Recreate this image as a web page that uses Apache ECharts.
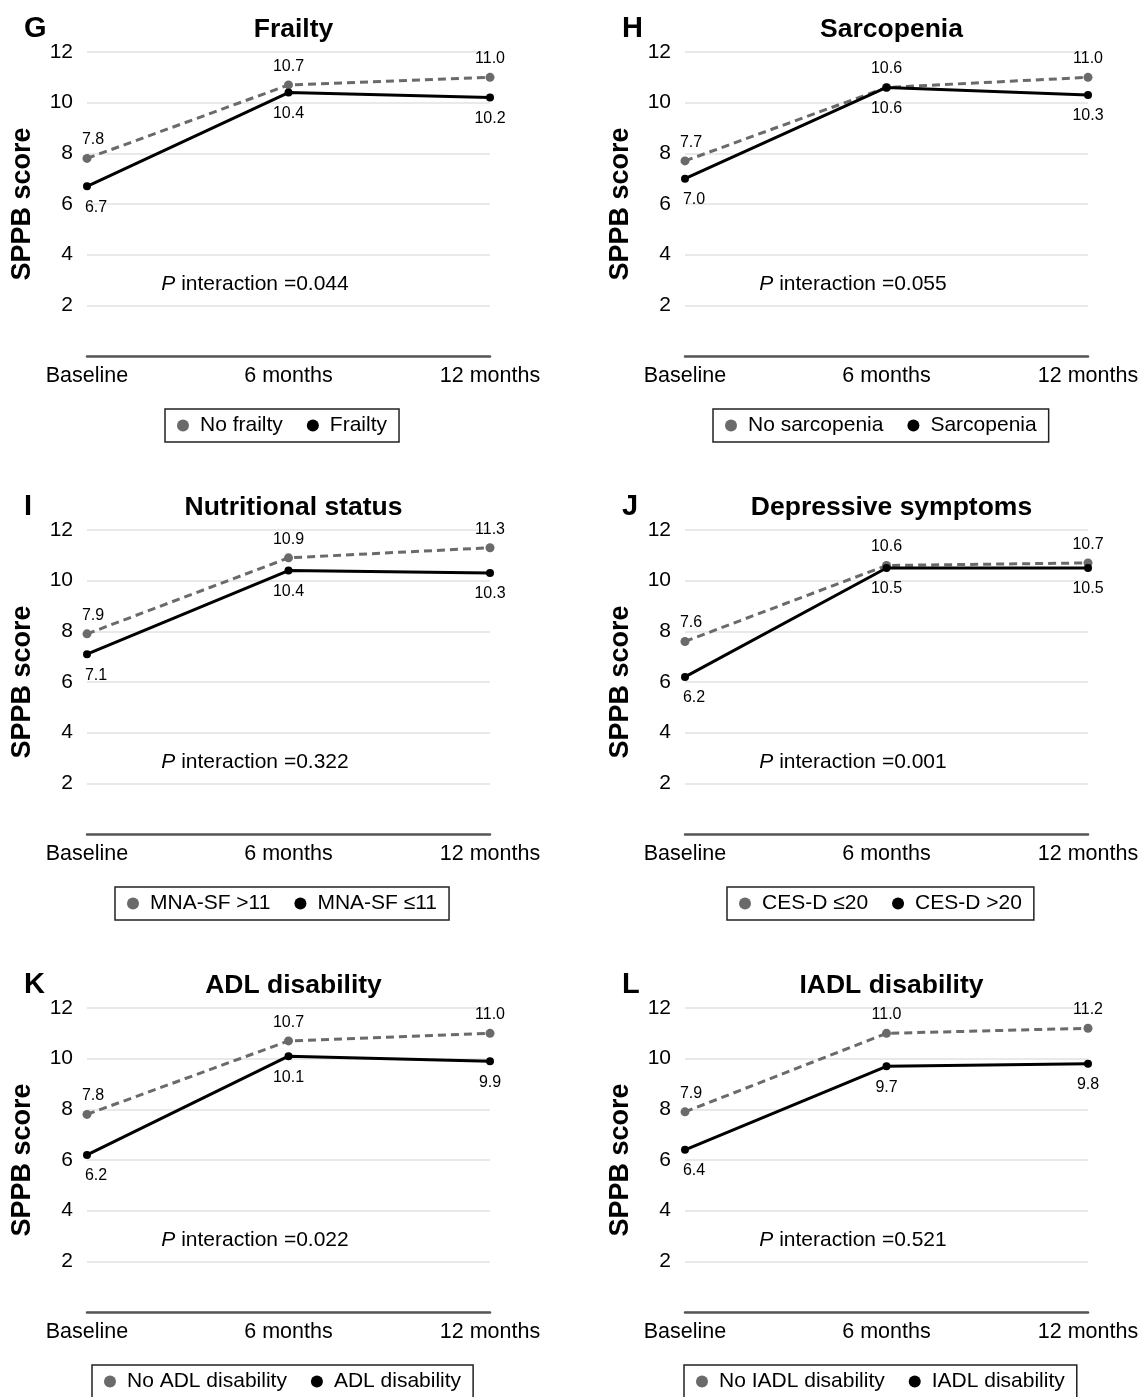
<!DOCTYPE html>
<html>
<head>
<meta charset="utf-8">
<script src="https://cdn.jsdelivr.net/npm/echarts@6/dist/echarts.min.js"></script>
<style>
html,body{margin:0;padding:0;background:#fff;}
#chart{width:1144px;height:1397px;}
</style>
</head>
<body>
<div id="chart"></div>
<script>
// ---------- data ----------
const categories = ['Baseline', '6 months', '12 months'];
const yTicks = { min: 0, max: 12, interval: 2 };
const panelLetters = ['G', 'H', 'I', 'J', 'K', 'L'];
const panelTitles = ['Frailty', 'Sarcopenia', 'Nutritional status', 'Depressive symptoms', 'ADL disability', 'IADL disability'];
const groupNamesA = ['No frailty', 'No sarcopenia', 'MNA-SF >11', 'CES-D ≤20', 'No ADL disability', 'No IADL disability'];
const groupNamesB = ['Frailty', 'Sarcopenia', 'MNA-SF ≤11', 'CES-D >20', 'ADL disability', 'IADL disability'];
const frailtyNo = [7.8, 10.7, 11.0];
const frailtyYes = [6.7, 10.4, 10.2];
const sarcopeniaNo = [7.7, 10.6, 11.0];
const sarcopeniaYes = [7.0, 10.6, 10.3];
const mnaHigh = [7.9, 10.9, 11.3];
const mnaLow = [7.1, 10.4, 10.3];
const cesdLow = [7.6, 10.6, 10.7];
const cesdHigh = [6.2, 10.5, 10.5];
const adlNo = [7.8, 10.7, 11.0];
const adlYes = [6.2, 10.1, 9.9];
const iadlNo = [7.9, 11.0, 11.2];
const iadlYes = [6.4, 9.7, 9.8];
const valuesA = [frailtyNo, sarcopeniaNo, mnaHigh, cesdLow, adlNo, iadlNo];
const valuesB = [frailtyYes, sarcopeniaYes, mnaLow, cesdHigh, adlYes, iadlYes];
const pValues = ['0.044', '0.055', '0.322', '0.001', '0.022', '0.521'];

// ---------- layout / style ----------
const FONT = '"Liberation Sans", Arial, sans-serif';
const colLeft = [87, 685];
const gridWidth = 403;
const rowOffset = [0, 478, 956];
const gridTopBase = 52;
const gridHeight = 304;
const legendFont = 21, legendPadX = 12, legendItemW = 24, legendItemH = 12, legendGap = 24;

const canvas = document.createElement('canvas');
const ctx = canvas.getContext('2d');
ctx.font = legendFont + 'px ' + FONT;
const tw = s => ctx.measureText(s).width;

const grids = [], xAxes = [], yAxes = [], series = [], titles = [], legends = [];

for (let i = 0; i < 6; i++) {
  const col = i % 2, row = Math.floor(i / 2);
  const left = colLeft[col];
  const off = rowOffset[row];
  const top = gridTopBase + off;
  const cx = left + gridWidth / 2;

  grids.push({ left: left, top: top, width: gridWidth, height: gridHeight, containLabel: false });

  xAxes.push({
    type: 'category', gridIndex: i, data: categories, boundaryGap: false,
    axisLine: { show: true, lineStyle: { color: '#555', width: 2.5 } },
    axisTick: { show: false },
    axisLabel: { color: '#000', fontSize: 21.5, fontFamily: FONT, margin: 9 },
    splitLine: { show: false }
  });

  yAxes.push({
    type: 'value', gridIndex: i, min: yTicks.min, max: yTicks.max, interval: yTicks.interval,
    name: 'SPPB score', nameLocation: 'middle', nameGap: 51,
    nameTextStyle: { color: '#000', fontSize: 27, fontWeight: 'bold', fontFamily: FONT },
    axisLine: { show: false }, axisTick: { show: false },
    axisLabel: { color: '#000', fontSize: 21, fontFamily: FONT, margin: 14,
      formatter: v => (v === 0 ? '' : String(v)) },
    splitLine: { show: true, lineStyle: { color: '#e2e2e2', width: 1.5 } }
  });

  const mk = (arr, isA) => arr.map((v, j) => j === 0
    ? { value: v, label: { offset: isA ? [6, 0] : [9, 0] } } : v);

  series.push({
    name: groupNamesA[i], type: 'line', xAxisIndex: i, yAxisIndex: i,
    data: mk(valuesA[i], true),
    symbol: 'circle', symbolSize: 9,
    itemStyle: { color: '#6a6a6a' },
    lineStyle: { color: '#6a6a6a', width: 3, type: [8, 5] },
    label: { show: true, position: 'top', distance: 6, color: '#000', fontSize: 16, fontFamily: FONT,
      formatter: p => p.value.toFixed(1) },
    z: 3
  });
  series.push({
    name: groupNamesB[i], type: 'line', xAxisIndex: i, yAxisIndex: i,
    data: mk(valuesB[i], false),
    symbol: 'circle', symbolSize: 8,
    itemStyle: { color: '#000' },
    lineStyle: { color: '#000', width: 3 },
    label: { show: true, position: 'bottom', distance: 9, color: '#000', fontSize: 16, fontFamily: FONT,
      formatter: p => p.value.toFixed(1) },
    z: 4
  });

  titles.push({
    text: panelLetters[i], left: left - 68, top: off + 9,
    textStyle: { color: '#000', fontSize: 29, fontWeight: 'bold', fontFamily: FONT }
  });
  titles.push({
    text: panelTitles[i], left: cx, top: off + 11, textAlign: 'center',
    textStyle: { color: '#000', fontSize: 26.5, fontWeight: 'bold', fontFamily: FONT }
  });
  titles.push({
    text: '{i|P} interaction =' + pValues[i], left: left + 163, top: off + 269, textAlign: 'center',
    textStyle: { color: '#000', fontSize: 21, fontWeight: 'normal', fontFamily: FONT,
      rich: { i: { fontStyle: 'italic', fontWeight: 'normal', fontSize: 21, fontFamily: FONT, color: '#000' } } }
  });

  const lw = 2 * legendPadX + (legendItemW + 5 + tw(groupNamesA[i])) + legendGap + (legendItemW + 5 + tw(groupNamesB[i]));
  legends.push({
    data: [groupNamesA[i], groupNamesB[i]],
    left: Math.round(cx - lw / 2), top: off + 409,
    orient: 'horizontal', icon: 'circle', symbolKeepAspect: true,
    itemWidth: legendItemW, itemHeight: legendItemH, itemGap: legendGap,
    padding: [6, legendPadX], borderColor: '#222', borderWidth: 1.5,
    selectedMode: false,
    textStyle: { color: '#000', fontSize: legendFont, fontFamily: FONT }
  });
}

const chart = echarts.init(document.getElementById('chart'), null, { renderer: 'canvas', width: 1144, height: 1397 });
chart.setOption({
  backgroundColor: '#fff',
  animation: false,
  title: titles,
  legend: legends,
  grid: grids,
  xAxis: xAxes,
  yAxis: yAxes,
  series: series
});
</script>
</body>
</html>
